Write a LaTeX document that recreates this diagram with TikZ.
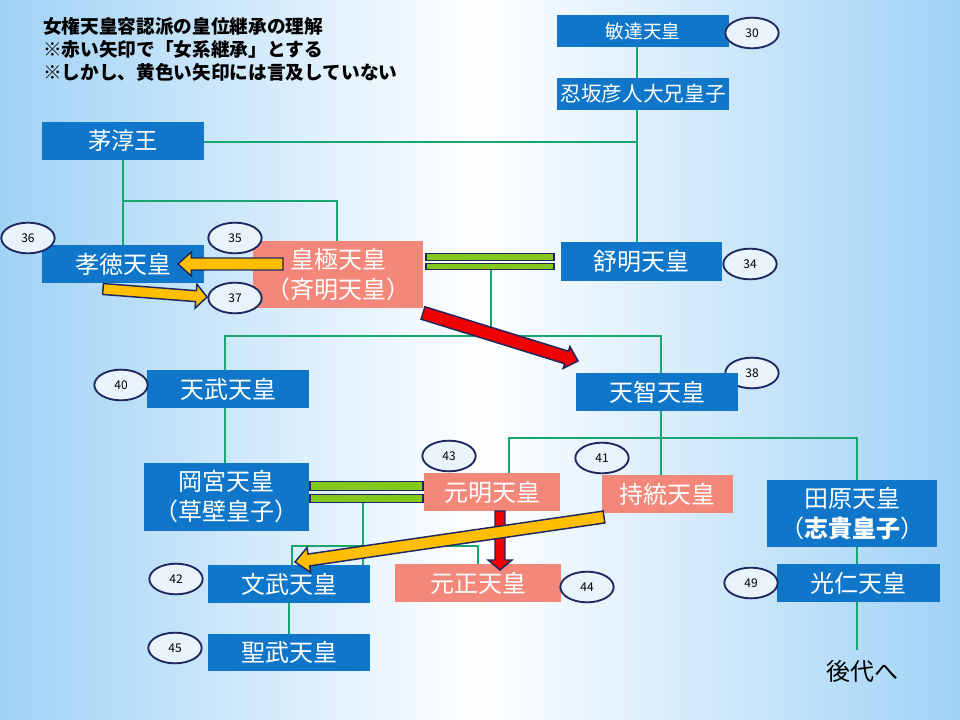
\documentclass[tikz,border=0pt]{standalone}
\usepackage{fontspec}
\newfontfamily\jp{Noto Sans CJK JP}
\usetikzlibrary{calc,shapes.geometric}
\definecolor{boxblue}{RGB}{16,118,202}
\definecolor{salmon}{RGB}{243,136,122}
\definecolor{lineg}{RGB}{24,166,110}
\definecolor{navyc}{RGB}{30,40,95}
\definecolor{barg}{RGB}{132,200,30}
\definecolor{arry}{RGB}{255,190,0}
\definecolor{arrr}{RGB}{240,0,0}
\definecolor{bgblue}{RGB}{160,210,245}
\definecolor{ellfill}{RGB}{232,243,252}
\newcommand\blockarrow[6]{%
  \coordinate (bxneck) at ($(#3)!#6!(#2)$);
  \draw[draw=navyc, line width=1.1pt, fill=#1, line join=miter]
   ($(#2)!#4!90:(#3)$) -- ($(bxneck)!#4!90:(#3)$) -- ($(bxneck)!#5!90:(#3)$) -- (#3)
   -- ($(bxneck)!#5!-90:(#3)$) -- ($(bxneck)!#4!-90:(#3)$) -- ($(#2)!#4!-90:(#3)$) -- cycle;}
\tikzset{
  sz/.style 2 args={minimum width={0.75pt*#1}, minimum height={0.75pt*#2}},
  box/.style={draw=none, inner sep=0, text=white, font=\jp\fontsize{18}{22.5}\selectfont, align=center},
  bbox/.style={box, fill=boxblue},
  sbox/.style={box, fill=salmon},
  num/.style={ellipse, draw=navyc, line width=1.4pt, fill=ellfill, minimum width=40pt, minimum height=23pt, inner sep=0, font=\jp\fontsize{9}{10}\selectfont},
  gl/.style={draw=lineg, line width=0.8pt},
  bar/.style={draw=navyc, line width=1pt, fill=barg, inner sep=0},
}
\begin{document}
\begin{tikzpicture}[x=0.75pt,y=-0.75pt]
\shade[left color=bgblue, right color=bgblue, middle color=white] (0,0) rectangle (960,720);
\useasboundingbox (0,0) rectangle (960,720);

% title
\node[anchor=north west, inner sep=0, align=left, font=\jp\bfseries\fontsize{14}{17.25}\selectfont] (title) at (43,17)
  {女権天皇容認派の皇位継承の理解\\※赤い矢印で「女系継承」とする\\※しかし、黄色い矢印には言及していない};

\node[num] (n38) at (752,373) {38};

% boxes
\node[bbox, sz={172}{32}, font=\jp\fontsize{14}{16}\selectfont] (bidatsu) at (643,31) {敏達天皇};
\node[bbox, sz={172}{32}, font=\jp\fontsize{15.5}{18}\selectfont] (oshisaka) at (643,94) {忍坂彦人大兄皇子};
\node[bbox, sz={162}{38}, font=\jp\fontsize{17.5}{21}\selectfont] (chinu) at (123,141) {茅淳王};
\node[bbox, sz={162}{38}] (kotoku) at (123,264) {孝徳天皇};
\node[sbox, sz={170}{67}] (kogyoku) at (338,274.5) {皇極天皇\\（斉明天皇）};
\node[bbox, sz={161}{39}] (jomei) at (641.5,261.5) {舒明天皇};
\node[bbox, sz={162}{38}] (tenmu) at (228,389) {天武天皇};
\node[bbox, sz={162}{38}] (tenji) at (657,392) {天智天皇};
\node[bbox, sz={165}{68}] (okamiya) at (226.5,497) {岡宮天皇\\（草壁皇子）};
\node[sbox, sz={136}{38}] (genmei) at (492,492) {元明天皇};
\node[sbox, sz={131}{38}] (jito) at (667.5,494) {持統天皇};
\node[bbox, sz={170}{67}] (tahara) at (852,513.5) {田原天皇\\（{\bfseries 志貴皇子}）};
\node[bbox, sz={162}{38}] (monmu) at (289,584) {文武天皇};
\node[sbox, sz={166}{38}] (gensho) at (478,583) {元正天皇};
\node[bbox, sz={163}{38}] (konin) at (858.5,583) {光仁天皇};
\node[bbox, sz={162}{37}] (shomu) at (289,652.5) {聖武天皇};
\node[font=\jp\fontsize{18}{20}\selectfont, inner sep=0] (kodai) at (862,671) {後代へ};

% marriage bars
\node[bar, sz={128}{6.5}] (m1a) at (490,257) {};
\node[bar, sz={128}{6.5}] (m1b) at (490,266.5) {};
\node[bar, sz={113}{8.5}] (m2a) at (366.5,486) {};
\node[bar, sz={113}{8.5}] (m2b) at (366.5,498.5) {};

% junction coordinates
\coordinate (jx) at (637,142);
\coordinate (k1) at (123,201);
\coordinate (k2) at (337,201);
\coordinate (t1) at (491,336);
\coordinate (t1l) at (225,336);
\coordinate (t1r) at (661,336);
\coordinate (t2l) at (509,438);
\coordinate (t2m) at (661,438);
\coordinate (t2r) at (857,438);
\coordinate (t3) at (363,546);
\coordinate (t3l) at (292,546);
\coordinate (t3r) at (478,546);

% lines
\draw[gl] (bidatsu.south -| jx) -- (oshisaka.north -| jx);
\draw[gl] (oshisaka.south -| jx) -- (jomei.north -| jx);
\draw[gl] (chinu.east |- jx) -- (jx);
\draw[gl] (chinu.south) -- (kotoku.north);
\draw[gl] (k1) -- (k2) -- (kogyoku.north -| k2);
\draw[gl] (m1b.south -| t1) -- (t1);
\draw[gl] (tenmu.north -| t1l) -- (t1l) -- (t1r) -- (tenji.north -| t1r);
\draw[gl] (tenmu.south -| t1l) -- (okamiya.north -| t1l);
\draw[gl] (tenji.south -| t2m) -- (jito.north -| t2m);
\draw[gl] (genmei.north -| t2l) -- (t2l) -- (t2r) -- (tahara.north -| t2r);
\draw[gl] (m2b.south -| t3) -- (monmu.north -| t3);
\draw[gl] (monmu.north -| t3l) -- (t3l) -- (t3r) -- (gensho.north -| t3r);
\draw[gl] (monmu.south) -- (shomu.north);
\draw[gl] (tahara.south -| t2r) -- (konin.north -| t2r);
\draw[gl] (konin.south -| t2r) -- ($(kodai.north -| t2r)+(0,-10)$);

% arrows
\coordinate (rC1) at (423,313); \coordinate (rC2) at (578,361);
\coordinate (rD1) at (500,511); \coordinate (rD2) at (500,570);
\coordinate (yA1) at (283,264); \coordinate (yA2) at (178,264);
\coordinate (yB1) at (103,289); \coordinate (yB2) at (207,297);
\coordinate (yE1) at (604,517); \coordinate (yE2) at (295,562);
\blockarrow{arrr}{rC1}{rC2}{4.9pt}{8.6pt}{9pt}
\blockarrow{arrr}{rD1}{rD2}{3.75pt}{9pt}{7.5pt}
\blockarrow{arry}{yA1}{yA2}{4.5pt}{9pt}{10pt}
\blockarrow{arry}{yB1}{yB2}{4.1pt}{9pt}{8.25pt}
\blockarrow{arry}{yE1}{yE2}{4.5pt}{9.4pt}{10.5pt}

% numbers
\node[num] (n30) at (752,33) {30};
\node[num] (n36) at (28,238) {36};
\node[num] (n35) at (235,238) {35};
\node[num] (n37) at (235,298) {37};
\node[num] (n34) at (750,264) {34};
\node[num] (n40) at (121,385) {40};
\node[num] (n43) at (449,456) {43};
\node[num] (n42) at (176,579) {42};
\node[num] (n41) at (602,458) {41};
\node[num] (n44) at (587,587) {44};
\node[num] (n49) at (751,583) {49};
\node[num] (n45) at (175,648) {45};
\end{tikzpicture}
\end{document}
